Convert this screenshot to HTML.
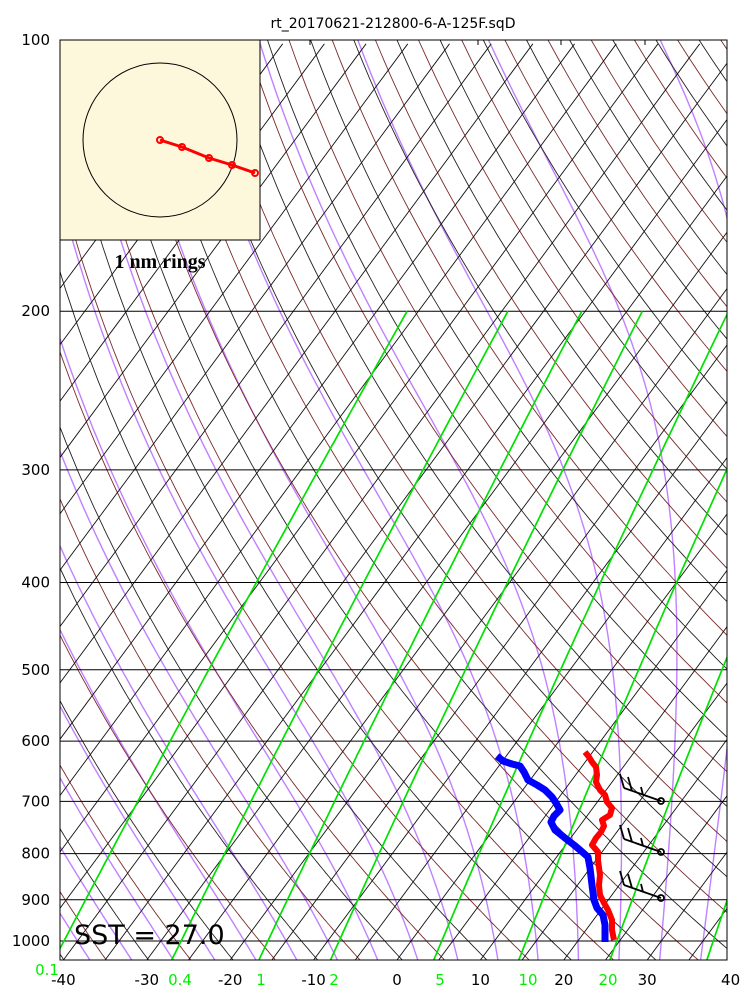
<!DOCTYPE html>
<html><head><meta charset="utf-8"><style>
html,body{margin:0;padding:0;background:#fff;width:750px;height:1000px;overflow:hidden}
svg text{font-family:"DejaVu Sans","Liberation Sans",sans-serif}
</style></head><body>
<svg id="s" width="750" height="1000" xmlns="http://www.w3.org/2000/svg">
<defs><clipPath id="c"><rect x="60" y="40" width="667" height="920"/></clipPath></defs>
<rect width="750" height="1000" fill="#fff"/>
<g id="grid" clip-path="url(#c)"></g>
<g id="data"></g>
<rect x="60" y="40" width="667" height="920" fill="none" stroke="#000" stroke-width="1"/>
<g stroke="#000" stroke-width="1"><line x1="478" y1="40" x2="478" y2="45"/><line x1="561" y1="40" x2="561" y2="45"/><line x1="645" y1="40" x2="645" y2="45"/><line x1="310" y1="40" x2="310" y2="45"/></g>
<text x="393" y="28" font-size="14" text-anchor="middle">rt_20170621-212800-6-A-125F.sqD</text>
<g font-size="15" text-anchor="end" id="ylab"></g>
<g font-size="15" text-anchor="middle" id="xlab"></g>
<text x="74" y="944" font-size="27">SST = 27.0</text>
<rect x="60" y="40" width="200" height="200" fill="#fdf7dc" stroke="#000" stroke-width="1"/>
<circle cx="160" cy="140" r="77" fill="none" stroke="#000" stroke-width="1"/>
<polyline points="160,140 182,147 209,158 232,165 255,173" fill="none" stroke="#f00" stroke-width="3"/>
<g fill="none" stroke="#f00" stroke-width="2">
<circle cx="160" cy="140" r="3"/><circle cx="182" cy="147" r="3"/><circle cx="209" cy="158" r="3"/><circle cx="232" cy="165" r="3"/><circle cx="255" cy="173" r="3"/></g>
<text x="160" y="268" font-size="20" font-weight="bold" text-anchor="middle" style="font-family:'Liberation Serif',serif">1 nm rings</text>
</svg>
<script>
var NS="http://www.w3.org/2000/svg";
function Y(p){return 40+901*Math.log10(p/100);}
var K=0.74;
function X(T,p){return 397+8.34*T+K*(960-Y(p));}
function add(g,tag,a){var e=document.createElementNS(NS,tag);for(var k in a)e.setAttribute(k,a[k]);document.getElementById(g).appendChild(e);return e;}
function pl(g,pts,col,w){add(g,'polyline',{points:pts.map(function(q){return q[0].toFixed(1)+','+q[1].toFixed(1)}).join(' '),fill:'none',stroke:col,'stroke-width':w,'stroke-linejoin':'round'});}
function es(T){return 6.112*Math.exp(17.67*T/(T+243.5));}
function step(T,p,dp){var rs=0.622*es(T-273.15)/(p-es(T-273.15));var L=2.5e6,Rd=287,cp=1005;var d=(Rd*T+L*rs)/(p*(cp+L*L*rs*0.622/(Rd*T*T)));return T+d*dp;}
// moist adiabats
for(var T0=-40;T0<=40;T0+=5){
 var pts=[],Tt=T0+273.15,pp;
 for(pp=1000;pp<1060;pp+=5){Tt=step(Tt,pp,5);}
 var T=Tt;for(var p=1060;p>=100;p-=5){pts.push([X(T-273.15,p),Y(p)]);T=step(T,p,-5);}
 pl('grid',pts,'#c080ff',1.4);
}
// dry adiabats alternating black / brown
var ps=[];for(var p=1060;p>=95;p-=5)ps.push(p);
for(var th=180;th<=600;th+=5){
 var pts=ps.map(function(p){return [X(th*Math.pow(p/1000,0.286)-273.15,p),Y(p)]});
 pl('grid',pts,(th%10==0?'#222':'#7a2a2a'),0.9);
}
// isotherms
for(var t=-160;t<=60;t+=5){add('grid','line',{x1:X(t,1060),y1:Y(1060),x2:X(t,1060)+K*920,y2:Y(1060)-920,stroke:'#111','stroke-width':0.9});}
// pressure lines
[200,300,400,500,600,700,800,900,1000].forEach(function(p){add('grid','line',{x1:60,y1:Y(p),x2:727,y2:Y(p),stroke:'#000','stroke-width':1});});
// mixing ratio
[0.1,0.4,1,2,5,10,20,40].forEach(function(w){var pts=[];for(var p=1060;p>=200;p-=10){var e=w*p/(622+w);var l=Math.log(e/6.112);var Td=243.5*l/(17.67-l);pts.push([X(Td,p)-5*(1060-p)/860,Y(p)]);}pl('grid',pts,'#00e000',1.7);});
// labels
[100,200,300,400,500,600,700,800,900,1000].forEach(function(p){var t=add('ylab','text',{x:50,y:Y(p)+5});t.textContent=p;});
[-40,-30,-20,-10,0,10,20,30,40].forEach(function(v){var t=add('xlab','text',{x:397+8.34*v,y:985});t.textContent=v;});
[[47,975,'0.1'],[180,985,'0.4'],[261,985,'1'],[334,985,'2'],[440,985,'5'],[528,985,'10'],[608,985,'20']].forEach(function(a){var t=add('xlab','text',{x:a[0],y:a[1],fill:'#00ee00'});t.textContent=a[2];});
// soundings
var red=[[585,752],[589,757],[592,762],[596,767],[597,775],[596,782],[600,790],[605,795],[607,802],[612,808],[610,815],[602,820],[604,826],[601,832],[596,838],[592,845],[598,852],[598,860],[600,875],[599,885],[600,895],[604,903],[608,910],[612,920],[612,930],[614,940]];
var blue=[[497,756],[503,761],[512,764],[520,766],[524,772],[528,780],[537,785],[545,790],[552,797],[556,803],[560,810],[554,816],[551,822],[555,830],[565,838],[574,845],[580,850],[588,857],[590,868],[592,885],[594,900],[597,908],[603,915],[605,925],[605,942]];
pl('data',red,'#f00',6);pl('data',blue,'#00f',7);
// wind barbs
[801,852,898].forEach(function(y){
 pl('data',[[661,y],[624,y-13]],'#000',1.8);
 pl('data',[[624,y-13],[620,y-27]],'#000',1.8);
 pl('data',[[632,y-10],[628,y-24]],'#000',1.8);
 pl('data',[[643,y-6],[641,y-14]],'#000',1.8);
 add('data','circle',{cx:661,cy:y,r:3,fill:'none',stroke:'#000','stroke-width':1.8});
});
</script>
</body></html>
